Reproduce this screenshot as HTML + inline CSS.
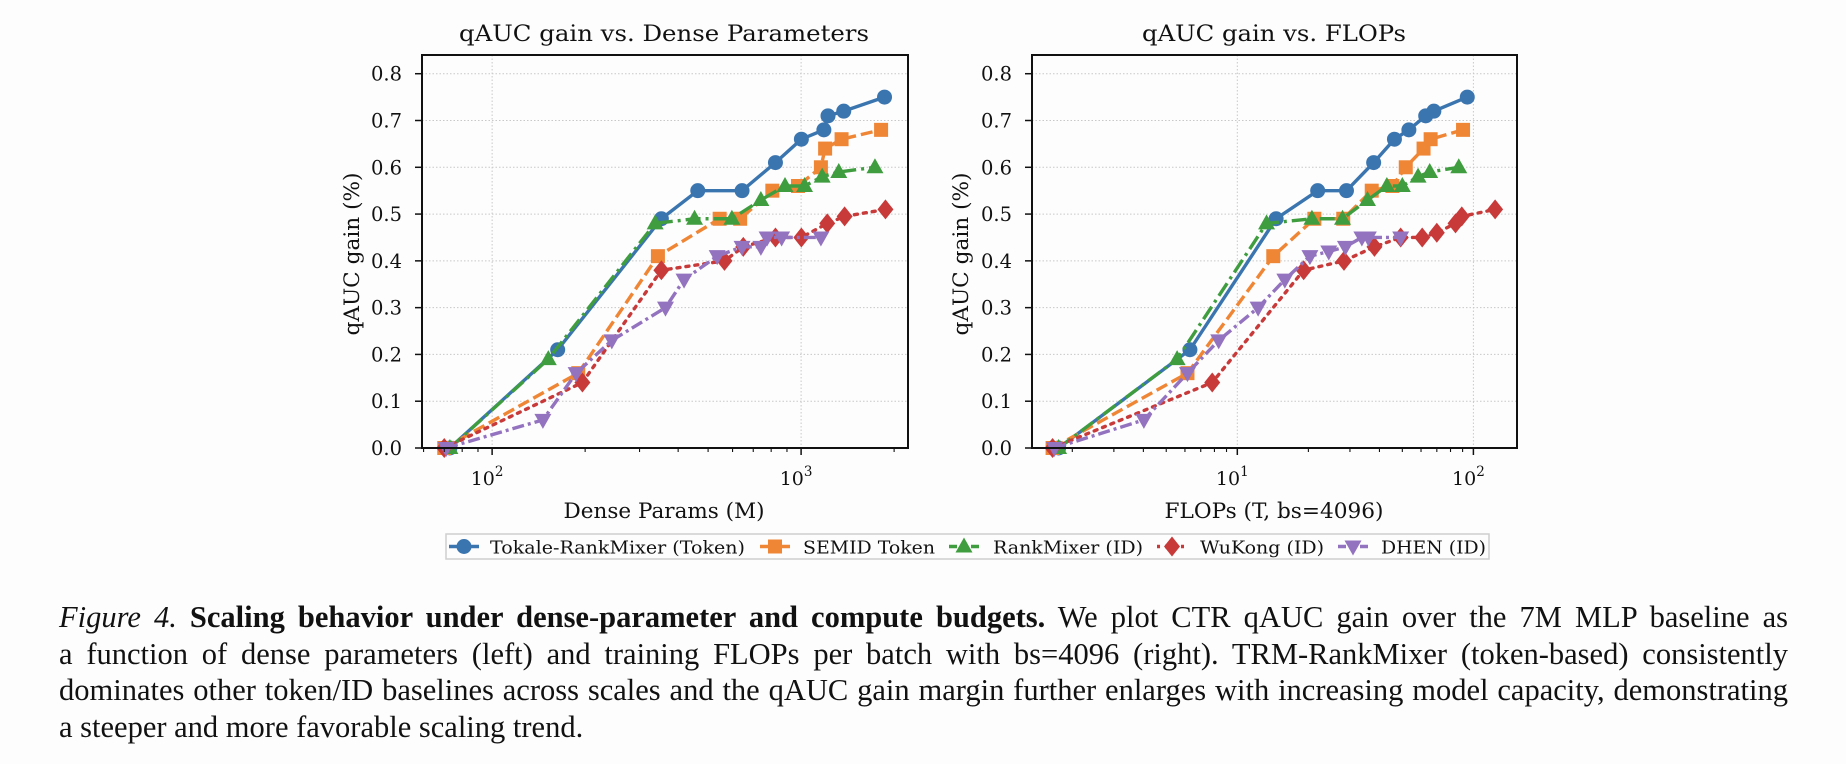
<!DOCTYPE html>
<html><head><meta charset="utf-8">
<style>
html,body{margin:0;padding:0;background:#fdfdfd;}
#wrap{position:relative;width:1846px;height:764px;overflow:hidden;background:#fdfdfd;}
svg{position:absolute;left:0;top:0;}
.cap{position:absolute;left:59px;top:599px;width:1729px;font-family:"Liberation Serif",serif;font-size:30.5px;line-height:36.5px;color:#111;}
.cap div{text-align:justify;text-align-last:justify;white-space:nowrap;}
.cap div.last{text-align-last:left;}
</style></head>
<body>
<div id="wrap">
<svg id="chart" width="1846" height="764"></svg>
<div class="cap">
<div><i>Figure 4.</i> <b>Scaling behavior under dense-parameter and compute budgets.</b> We plot CTR qAUC gain over the 7M MLP baseline as</div>
<div>a function of dense parameters (left) and training FLOPs per batch with bs=4096 (right). TRM-RankMixer (token-based) consistently</div>
<div>dominates other token/ID baselines across scales and the qAUC gain margin further enlarges with increasing model capacity, demonstrating</div>
<div class="last">a steeper and more favorable scaling trend.</div>
</div>
</div>
<script>
const seriesNames = ["Tokale-RankMixer (Token)","SEMID Token","RankMixer (ID)","WuKong (ID)","DHEN (ID)"];
const yTicks = [0,0.1,0.2,0.3,0.4,0.5,0.6,0.7,0.8];
const yTickLabels = ["0.0","0.1","0.2","0.3","0.4","0.5","0.6","0.7","0.8"];
// Left: dense params (M)
const paramsTokale = [73,163,353,463,644,826,1002,1185,1222,1374,1862];
const gainTokale   = [0,0.21,0.49,0.55,0.55,0.61,0.66,0.68,0.71,0.72,0.75];
const paramsSemid  = [70,190,344,545,635,807,977,1159,1196,1352,1815];
const gainSemid    = [0,0.16,0.41,0.49,0.49,0.55,0.56,0.60,0.64,0.66,0.68];
const paramsRank   = [73,152,337,452,597,741,887,1026,1170,1324,1734];
const gainRank     = [0,0.19,0.48,0.49,0.49,0.53,0.56,0.56,0.58,0.59,0.60];
const paramsWuKong = [70,196,353,565,650,826,1002,1215,1383,1875];
const gainWuKong   = [0,0.14,0.38,0.40,0.43,0.45,0.45,0.48,0.495,0.51];
const paramsDhen   = [71,146,187,244,364,418,535,644,741,776,865,1159];
const gainDhen     = [0,0.06,0.16,0.23,0.30,0.36,0.41,0.43,0.43,0.45,0.45,0.45];
// Right: FLOPs (T)
const flopsTokale = [1.75,6.3,14.6,21.9,29,37.8,46.3,53.3,62.8,68,94.2];
const fgainTokale = [0,0.21,0.49,0.55,0.55,0.61,0.66,0.68,0.71,0.72,0.75];
const flopsSemid  = [1.65,6.15,14.2,21.2,28.1,37.1,45.4,51.7,61.5,65.9,90.4];
const fgainSemid  = [0,0.16,0.41,0.49,0.49,0.55,0.56,0.60,0.64,0.66,0.68];
const flopsRank   = [1.75,5.56,13.3,20.7,27.9,35.6,43,50,58.3,65.3,86.7];
const fgainRank   = [0,0.19,0.48,0.49,0.49,0.53,0.56,0.56,0.58,0.59,0.60];
const flopsWuKong = [1.65,7.83,19.1,28.3,38.1,49.2,60.7,70,84,89.3,123.6];
const fgainWuKong = [0,0.14,0.38,0.40,0.43,0.45,0.45,0.46,0.48,0.495,0.51];
const flopsDhen   = [1.68,4.02,6.15,8.34,12.25,15.9,20.3,24.4,28.7,33.7,35.9,49.2];
const fgainDhen   = [0,0.06,0.16,0.23,0.30,0.36,0.41,0.42,0.43,0.45,0.45,0.45];

const NS="http://www.w3.org/2000/svg";
const svg=document.getElementById('chart');
const colors=["#3b75af","#ef8636","#3f9d3f","#c83a3a","#9372bf"];
const dashes=["none","12,5","15,5,3,5","3,6","12,4,3,4"];
const markers=["circle","square","tri-up","diamond","tri-down"];
function el(tag,attrs,parent){const e=document.createElementNS(NS,tag);for(const k in attrs)e.setAttribute(k,attrs[k]);(parent||svg).appendChild(e);return e;}

function drawMarker(g,type,x,y,c){
  let m;
  if(type==="circle") m=el('circle',{cx:x,cy:y,r:7.5,fill:c},g);
  else if(type==="square") m=el('rect',{x:x-7,y:y-7,width:14,height:14,fill:c},g);
  else if(type==="tri-up") m=el('polygon',{points:`${x},${y-9} ${x+8.5},${y+6} ${x-8.5},${y+6}`,fill:c},g);
  else if(type==="tri-down") m=el('polygon',{points:`${x},${y+9} ${x+8.5},${y-6} ${x-8.5},${y-6}`,fill:c},g);
  else m=el('polygon',{points:`${x},${y-10} ${x+8},${y} ${x},${y+10} ${x-8},${y}`,fill:c},g);
  
  
  return m;
}

function drawPanel(cfg){
  const {L,R,T,B,lmin,lmax,ymax,title,titleX,titleW,xlabel,xlabelW,ylabelX,tickLblRight,majors,minors,series,name}=cfg;
  const g=el('g',{});  
  const sx=v=>L+(Math.log10(v)-lmin)/(lmax-lmin)*(R-L);
  const sy=v=>B-v/ymax*(B-T);
  const grid=el('g',{},g);  
  yTicks.forEach(t=>{ if(t>0) el('line',{x1:L,x2:R,y1:sy(t),y2:sy(t),stroke:"#c8c8c8","stroke-width":1,"stroke-dasharray":"1.5,2"},grid);});
  majors.forEach(m=>el('line',{x1:sx(m.v),x2:sx(m.v),y1:T,y2:B,stroke:"#c8c8c8","stroke-width":1,"stroke-dasharray":"1.5,2"},grid));
  series.forEach((s,i)=>{
    const sg=el('g',{},g);  
    const pts=s.x.map((v,j)=>sx(v)+","+sy(s.y[j])).join(" ");
    const pl=el('polyline',{points:pts,fill:"none",stroke:colors[i],"stroke-width":3.4,"stroke-dasharray":dashes[i],"stroke-linecap":i===3?"round":"butt"},sg);
     
    s.x.forEach((v,j)=>drawMarker(sg,markers[i],sx(v),sy(s.y[j]),colors[i]));
  });
  const fr=el('rect',{x:L,y:T,width:R-L,height:B-T,fill:"none",stroke:"#111","stroke-width":2},g);
   
  const ya=el('g',{},g);  
  yTicks.forEach((t,i)=>{
    el('line',{x1:L-7,x2:L,y1:sy(t),y2:sy(t),stroke:"#111","stroke-width":1.5},ya);
    const tx=el('text',{x:tickLblRight,y:sy(t)+7,"text-anchor":"end","font-family":"DejaVu Serif, serif","font-size":19.5,fill:"#111"},ya);
    tx.textContent=yTickLabels[i];
  });
  const xa=el('g',{},g);  
  majors.forEach(m=>{
    el('line',{x1:sx(m.v),x2:sx(m.v),y1:B,y2:B+7,stroke:"#111","stroke-width":1.5},xa);
    const tx=el('text',{x:sx(m.v)-5,y:B+37,"text-anchor":"middle","font-family":"DejaVu Serif, serif","font-size":19,fill:"#111"},xa);
    tx.textContent="10";
    const sp=document.createElementNS(NS,'tspan'); sp.setAttribute('dy','-9'); sp.setAttribute('font-size','13.5'); sp.textContent=m.e; tx.appendChild(sp);
  });
  minors.forEach(v=>el('line',{x1:sx(v),x2:sx(v),y1:B,y2:B+4,stroke:"#111","stroke-width":1.1},xa));
  const tt=el('text',{x:titleX,y:41,"text-anchor":"middle","font-family":"DejaVu Serif, serif","font-size":22,fill:"#111",textLength:titleW,lengthAdjust:"spacingAndGlyphs"},g);
  tt.textContent=title;  
  const xl=el('text',{x:titleX,y:518,"text-anchor":"middle","font-family":"DejaVu Serif, serif","font-size":21,fill:"#111",textLength:xlabelW,lengthAdjust:"spacingAndGlyphs"},g);
  xl.textContent=xlabel;  
  const yl=el('text',{x:0,y:0,"text-anchor":"middle","font-family":"DejaVu Serif, serif","font-size":21,fill:"#111",textLength:163,lengthAdjust:"spacingAndGlyphs",transform:`translate(${ylabelX},254) rotate(-90)`},g);
  yl.textContent="qAUC gain (%)";  
}

drawPanel({name:"dense-params-chart",L:422,R:908,T:55,B:448,lmin:Math.log10(59.3),lmax:Math.log10(2218),ymax:0.84,
  title:"qAUC gain vs. Dense Parameters",titleX:664,titleW:410,xlabel:"Dense Params (M)",xlabelW:201,ylabelX:359,tickLblRight:402,
  majors:[{v:100,e:"2"},{v:1000,e:"3"}],minors:[60,70,80,90,200,300,400,500,600,700,800,900,2000],
  series:[{x:paramsTokale,y:gainTokale},{x:paramsSemid,y:gainSemid},{x:paramsRank,y:gainRank},{x:paramsWuKong,y:gainWuKong},{x:paramsDhen,y:gainDhen}]});
drawPanel({name:"flops-chart",L:1032,R:1517,T:55,B:448,lmin:Math.log10(1.35),lmax:Math.log10(153),ymax:0.84,
  title:"qAUC gain vs. FLOPs",titleX:1274,titleW:264,xlabel:"FLOPs (T, bs=4096)",xlabelW:219,ylabelX:968,tickLblRight:1012,
  majors:[{v:10,e:"1"},{v:100,e:"2"}],minors:[2,3,4,5,6,7,8,9,20,30,40,50,60,70,80,90],
  series:[{x:flopsTokale,y:fgainTokale},{x:flopsSemid,y:fgainSemid},{x:flopsRank,y:fgainRank},{x:flopsWuKong,y:fgainWuKong},{x:flopsDhen,y:fgainDhen}]});

const lg=el('g',{});


el('rect',{x:446,y:534,width:1043,height:25,fill:"#fdfdfd",stroke:"#cfcfcf","stroke-width":1.5},lg);
const legMarkX=[464,775,964,1172,1353];
const legTextX=[490,803,993,1200,1381];
const legTextW=[255,132,150,124,105];
seriesNames.forEach((n,i)=>{
  const it=el('g',{},lg);
  
  
  el('line',{x1:legMarkX[i]-15,x2:legMarkX[i]+15,y1:546.5,y2:546.5,stroke:colors[i],"stroke-width":3.4,"stroke-dasharray":dashes[i]==="none"?"none":(i===3?"3,5":"8,3")},it);
  drawMarker(it,markers[i],legMarkX[i],546.5,colors[i]);
  const t=el('text',{x:legTextX[i],y:553.5,"font-family":"DejaVu Serif, serif","font-size":18,fill:"#111",textLength:legTextW[i],lengthAdjust:"spacingAndGlyphs"},it);
  t.textContent=n;
});
</script>
</body></html>
